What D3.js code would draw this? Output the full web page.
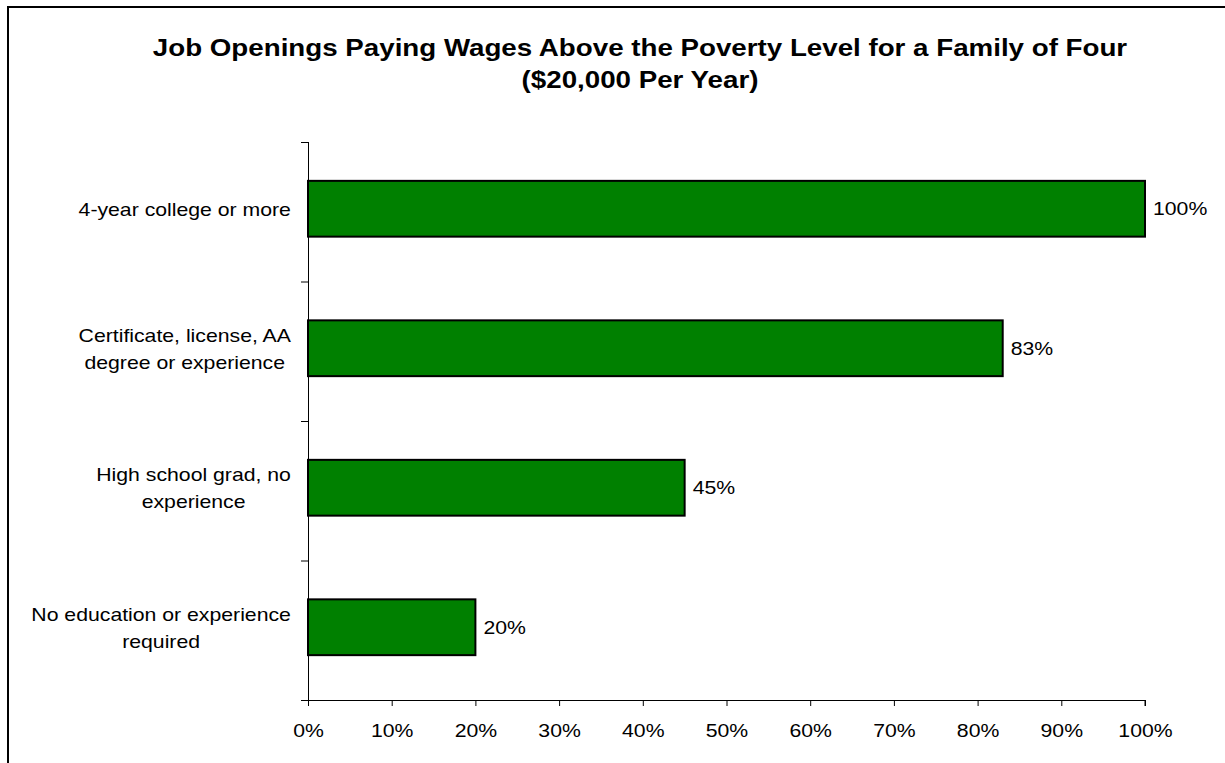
<!DOCTYPE html>
<html>
<head>
<meta charset="utf-8">
<script src="https://cdnjs.cloudflare.com/ajax/libs/d3/7.8.5/d3.min.js"></script>
<style>
body { margin: 0; background: #fff; }
text { font-family: "Liberation Sans", Arial, sans-serif; fill: #000; }
</style>
</head>
<body>
<script>
// chart data
const categories = [
    ["4-year college or more"],
    ["Certificate, license, AA", "degree or experience"],
    ["High school grad, no", "experience"],
    ["No education or experience", "required"]
];
const values = [100, 83, 45, 20];
const tickValues = [0, 10, 20, 30, 40, 50, 60, 70, 80, 90, 100];
const titleLines = ["Job Openings Paying Wages Above the Poverty Level for a Family of Four", "($20,000 Per Year)"];

const w = 1225;
const h = 763;
const plotLeft = 308, plotRight = 1145, plotTop = 142, plotBottom = 700;
const sx = 1.18; // text in the original is a bit wider than tall
const labelRight = 291;

const svg = d3.select("body")
.append("svg")
.attr("width", w)
.attr("height", h)

// outer frame
svg.append("rect")
.attr("x", 8)
.attr("y", 7)
.attr("width", w + 10)
.attr("height", h + 10)
.attr("fill", "none")
.attr("stroke", "#000")
.attr("stroke-width", 2)

// title
svg.selectAll("text.title")
.data(titleLines)
.enter()
.append("text")
.attr("class", "title")
.attr("transform", (d, i) => `translate(640,${56 + i * 32}) scale(${sx},1)`)
.attr("text-anchor", "middle")
.style("font-size", "23.5px")
.style("font-weight", "bold")
.text(d => d)

const x = d3.scaleLinear().domain([0, 100]).range([plotLeft, plotRight]);
const y = d3.scaleBand().domain(d3.range(categories.length)).range([plotTop, plotBottom]).paddingInner(0.6).paddingOuter(0.3);
const mid = i => y(i) - 3 + y.bandwidth() / 2;

// bars
svg.selectAll("rect.bar")
.data(values)
.enter()
.append("rect")
.attr("class", "bar")
.attr("x", x(0))
.attr("y", (d, i) => y(i) - 3)
.attr("width", d => x(d) - x(0))
.attr("height", y.bandwidth())
.attr("fill", "#008000")
.attr("stroke", "#000")
.attr("stroke-width", 2)

// value labels
svg.selectAll("text.val")
.data(values)
.enter()
.append("text")
.attr("class", "val")
.attr("transform", (d, i) => `translate(${x(d) + 8},${mid(i) + 6.5}) scale(${sx},1)`)
.style("font-size", "18px")
.text(d => d + "%")

// x axis
const xAxis = d3.axisBottom(x)
.tickValues(tickValues)
.tickSize(6)
.tickFormat(d => d + "%");
const gx = svg.append("g")
.attr("transform", `translate(0,${plotBottom})`)
.call(xAxis);
gx.select(".domain").attr("d", `M${plotLeft - 7},0.5H${plotRight}V6`).attr("stroke", "#000");
gx.selectAll(".tick text")
.attr("dy", 0)
.attr("y", 0)
.attr("transform", `translate(0,37) scale(${sx},1)`)
.style("font-size", "18px")
.style("font-family", "Liberation Sans, Arial, sans-serif")
.attr("fill", "#000");

// y axis line and ticks at band boundaries
const step = (plotBottom - plotTop) / categories.length;
svg.append("line")
.attr("x1", plotLeft + 0.5).attr("x2", plotLeft + 0.5)
.attr("y1", plotTop).attr("y2", plotBottom)
.attr("stroke", "#000")
svg.selectAll("line.ytick")
.data(d3.range(categories.length))
.enter()
.append("line")
.attr("class", "ytick")
.attr("x1", plotLeft - 7).attr("x2", plotLeft)
.attr("y1", (d, i) => plotTop + i * step + 0.5)
.attr("y2", (d, i) => plotTop + i * step + 0.5)
.attr("stroke", "#000")

// category labels: lines centred together, block right-aligned to the axis
const cat = svg.selectAll("text.cat")
.data(categories)
.enter()
.append("text")
.attr("class", "cat")
.attr("text-anchor", "middle")
.style("font-size", "18px")
cat.selectAll("tspan")
.data(d => d.map((t, j) => ({t, j, n: d.length})))
.enter()
.append("tspan")
.attr("x", 0)
.attr("y", d => (d.j - (d.n - 1) / 2) * 27 + 7)
.text(d => d.t)
cat.attr("transform", function(d, i) {
    let maxW = 0;
    d3.select(this).selectAll("tspan").each(function() {
        maxW = Math.max(maxW, this.getComputedTextLength());
    });
    const cx = labelRight - maxW * sx / 2;
    return `translate(${cx},${mid(i)}) scale(${sx},1)`;
})
</script>
</body>
</html>
